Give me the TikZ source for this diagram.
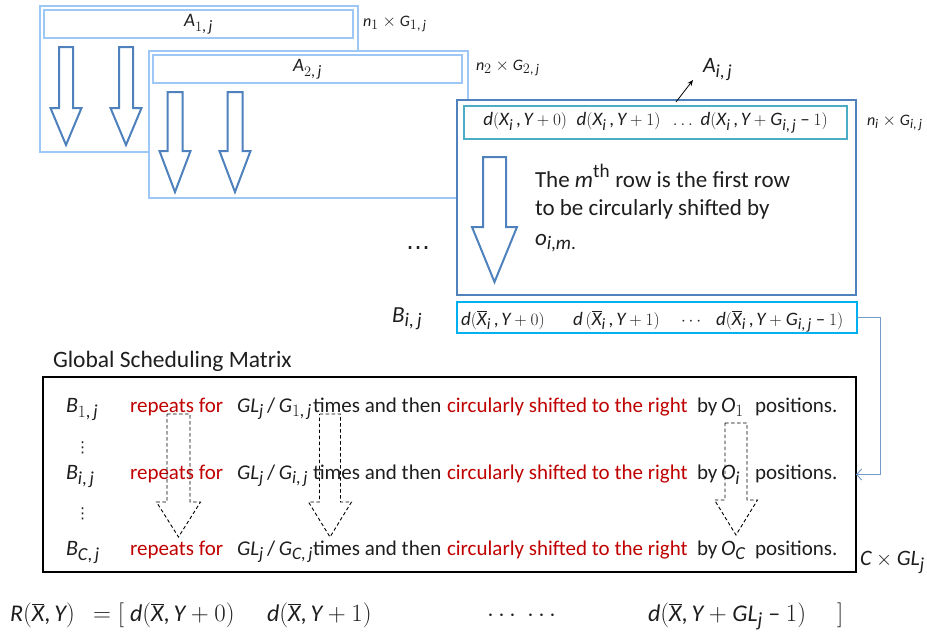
\documentclass[tikz,border=0pt]{standalone}
\usepackage{fontspec}
\setmainfont{Carlito}
\newfontfamily\dejavu{DejaVu Sans}
\usepackage[italic]{mathastext}
\usetikzlibrary{arrows.meta}
\definecolor{lblue}{RGB}{157,200,245}
\definecolor{dblue}{RGB}{79,129,189}
\definecolor{tealb}{RGB}{75,172,198}
\definecolor{cyanb}{RGB}{0,176,240}
\definecolor{dred}{RGB}{192,0,0}
\definecolor{ink}{RGB}{30,30,30}
\newcommand\fs[1]{\fontsize{#1}{#1}\selectfont}
\newcommand\blkarrow[7]{\draw[#7] ({#1-#3},#2) -- ({#1+#3},#2) -- ({#1+#3},#4) -- ({#1+#5},#4) -- (#1,#6) -- ({#1-#5},#4) -- ({#1-#3},#4) -- cycle;}
\newcommand\gsrow[5]{%
 \node[lbl, font=\fs{22}] (B#1) at (66,#2) {$B_{#3}$};
 \node[lbl, text=dred] (rep#1) at (130,#2) {repeats for};
 \node[lbl] (gl#1) at (237,#2) {$GL_j\,/\,G_{#4}$};
 \node[lbl] (tim#1) at (313,#2) {times and then};
 \node[lbl, text=dred] (cir#1) at (447,#2) {circularly shifted to the right};
 \node[lbl] (by#1) at (697,#2) {by};
 \node[lbl, font=\fs{22}] (O#1) at (721,#2) {$O_{#5}$};
 \node[lbl] (pos#1) at (755,#2) {positions.};
}
\begin{document}
\begin{tikzpicture}[x=1pt,y=-1pt,
  every node/.style={inner sep=0pt, outer sep=0pt, text=ink},
  font=\fs{21},
  lbl/.style={anchor=base west},
  lbox/.style={draw=lblue, line width=2pt, fill=white, anchor=north west},
  barrow/.style={draw=dblue, line width=2pt, fill=white, line join=miter},
  dasharr/.style={draw=black, line width=0.9pt, dash pattern=on 3.5pt off 2.5pt},
  conn/.style={draw=dblue!80, line width=0.9pt}]
\useasboundingbox (0,0) rectangle (927,635);
% ---- A_{1,j}
\node[lbox, minimum width=318pt, minimum height=146pt] (box1) at (40,6) {};
\node[lbox, minimum width=309pt, minimum height=28pt] (bar1) at (44,10) {};
\node[font=\fs{19}] (A1) at (bar1.center) {$A_{1,\,j}$};
\blkarrow{66}{47}{7}{108}{15.5}{145}{barrow}
\blkarrow{126}{47}{7}{108}{15.5}{145}{barrow}
\node[lbl, font=\fs{16}] (n1) at (363,26) {$n_1\times G_{1,\,j}$};
% ---- A_{2,j}
\node[lbox, minimum width=319pt, minimum height=147pt] (box2) at (149,51) {};
\node[lbox, minimum width=309pt, minimum height=28pt] (bar2) at (153,55) {};
\node[font=\fs{19}] (A2) at (bar2.center) {$A_{2,\,j}$};
\blkarrow{175}{92}{7.5}{151}{15.5}{192}{barrow}
\blkarrow{235}{92}{7.5}{151}{15.5}{192}{barrow}
\node[lbl, font=\fs{16}] (n2) at (476,70) {$n_2\times G_{2,\,j}$};
% ---- A_{i,j}
\node[draw=dblue, line width=2.5pt, fill=white, anchor=north west, minimum width=399pt, minimum height=195pt] (boxi) at (457,100) {};
\node[draw=tealb, line width=2pt, anchor=north west, minimum width=383pt, minimum height=33pt] (bari) at (464,106) {};
\node[font=\fs{19}] (di) at (bari.center) {$d(X_i\,,Y+0)\;\;d(X_i\,,Y+1)\;\;\ldots\;d(X_i\,,Y+G_{i,\,j}-1)$};
\node[lbl, font=\fs{16}] (ni) at (867,125) {$n_i\times G_{i,\,j}$};
\node[lbl, font=\fs{22}] (Aij) at (703,72) {$A_{i,\,j}$};
\coordinate (aT) at (676,102);
\coordinate (aH) at (693,80);
\draw[-{Stealth[length=6pt,width=5pt]}, line width=0.8pt] (aT) -- (aH);
\blkarrow{494.5}{157}{11.5}{227}{22.5}{282}{barrow}
\node[lbl, font=\fs{23}] (t1) at (535,187) {The $m^{\mathrm{th}}$ row is the first row};
\node[lbl, font=\fs{23}] (t2) at (535,215) {to be circularly shifted by};
\node[lbl, font=\fs{23}] (t3) at (535,245) {$o_{i,m.}$};
\node[lbl, font=\fs{24}] (dots) at (406,249) {\dejavu …};
% ---- B_{i,j}
\node[lbl, font=\fs{23}] (Bij) at (392,322) {$B_{i,\,j}$};
\node[draw=cyanb, line width=2pt, anchor=north west, minimum width=400pt, minimum height=31pt] (bbar) at (457,302) {};
\node[lbl, font=\fs{19}] (db1) at (461,325) {$d(\overline{X}_i\,,Y+0)$};
\node[lbl, font=\fs{19}] (db2) at (573,325) {$d\,(\overline{X}_i\,,Y+1)$};
\node[lbl, font=\fs{19}] (db3) at (681,325) {$\cdots$};
\node[lbl, font=\fs{19}] (db4) at (716,325) {$d(\overline{X}_i\,,Y+G_{i,\,j}-1)$};
% ---- Global scheduling matrix
\node[lbl, font=\fs{23.5}] (gsmt) at (53,367) {Global Scheduling Matrix};
\node[draw=black, line width=2.5pt, anchor=north west, minimum width=813pt, minimum height=195pt] (gsm) at (43,377) {};
\draw[conn, -{Straight Barb[length=5pt,width=11pt]}] (bbar.east) -- ++(23,0) |- (gsm.east);
\gsrow{1}{412}{1,\,j}{1,\,j}{1}
\gsrow{2}{479}{i,\,j}{i,\,j}{i}
\gsrow{3}{555}{C,\,j}{C,\,j}{C}
\node[lbl, font=\fs{15}] (vd1) at (75,452) {\dejavu ⋮};
\node[lbl, font=\fs{15}] (vd2) at (75,518) {\dejavu ⋮};
\blkarrow{178.5}{414}{11.5}{502}{22}{537}{dasharr}
\blkarrow{330}{414}{10.5}{502}{21.5}{537}{dasharr}
\blkarrow{736}{423}{11}{500}{21.5}{535}{dasharr}
\node[lbl, font=\fs{22}] (cgl) at (860,565) {$C\times GL_j$};
% ---- bottom formula
\node[lbl, font=\fs{24}] (f1) at (10,621) {$R(\overline{X},Y)$};
\node[lbl, font=\fs{24}] (f2) at (93,621) {$=[$};
\node[lbl, font=\fs{24}] (f3) at (130,621) {$d(\overline{X},Y+0)$};
\node[lbl, font=\fs{24}] (f4) at (267,621) {$d(\overline{X},Y+1)$};
\node[lbl, font=\fs{24}] (f5) at (487,621) {$\cdots\;\cdots$};
\node[lbl, font=\fs{24}] (f6) at (648,621) {$d(\overline{X},Y+GL_j-1)$};
\node[lbl, font=\fs{24}] (f7) at (837,621) {$]$};
\end{tikzpicture}
\end{document}
